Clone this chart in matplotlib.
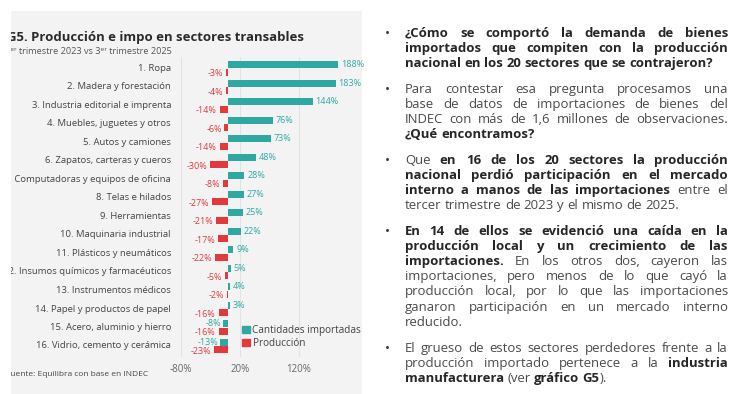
import numpy as np
import matplotlib
matplotlib.use('Agg')
import matplotlib.pyplot as plt
from matplotlib.patches import Patch
from matplotlib.transforms import blended_transform_factory

W, H = 748, 394
FONT = ['Open Sans', 'DejaVu Sans']
plt.rcParams['font.family'] = FONT

# data
sectores = ['1. Ropa', '2. Madera y forestación', '3. Industria editorial e imprenta',
            '4. Muebles, juguetes y otros', '5. Autos y camiones',
            '6. Zapatos, carteras y cueros', '7. Computadoras y equipos de oficina',
            '8. Telas e hilados', '9. Herramientas', '10. Maquinaria industrial',
            '11. Plásticos y neumáticos', '12. Insumos químicos y farmacéuticos',
            '13. Instrumentos médicos', '14. Papel y productos de papel',
            '15. Acero, aluminio y hierro', '16. Vidrio, cemento y cerámica']
importadas = [188, 183, 144, 76, 73, 48, 28, 27, 25, 22, 9, 5, 4, 3, -8, -13]
produccion = [-3, -4, -14, -6, -14, -30, -8, -27, -21, -17, -22, -5, -2, -16, -16, -23]
ticks = [-80, 20, 120]

titulo = 'G5. Producción e impo en sectores transables'
subtitulo = '3ᵉʳ trimestre 2023 vs 3ᵉʳ trimestre 2025'
fuente = 'Fuente: Equilibra con base en INDEC'

# right side text, ** marks bold runs
parrafos = [
    ['**¿Cómo se comportó la demanda de bienes**',
     '**importados que compiten con la producción**',
     '**nacional en los 20 sectores que se contrajeron?**'],
    ['Para contestar esa pregunta procesamos una',
     'base de datos de importaciones de bienes del',
     'INDEC con más de 1,6 millones de observaciones.',
     '**¿Qué encontramos?**'],
    ['Que **en 16 de los 20 sectores la producción**',
     '**nacional perdió participación en el mercado**',
     '**interno a manos de las importaciones** entre el',
     'tercer trimestre de 2023 y el mismo de 2025.'],
    ['**En 14 de ellos se evidenció una caída en la**',
     '**producción local y un crecimiento de las**',
     '**importaciones.** En los otros dos, cayeron las',
     'importaciones, pero menos de lo que cayó la',
     'producción local, por lo que las importaciones',
     'ganaron participación en un mercado interno',
     'reducido.'],
    ['El grueso de estos sectores perdedores frente a la',
     'producción importado pertenece a la **industria**',
     '**manufacturera** (ver **gráfico G5**).'],
]
inicio_parrafos = [33, 89, 160, 231, 348]

TEAL = '#2fa8a2'
RED = '#e23a3c'
GRAY_BG = '#f3f3f3'

fig = plt.figure(figsize=(W / 100, H / 100), dpi=100)
r = fig.canvas.get_renderer()


def fx(px):
    return px / W


def fy(py):
    return 1 - py / H


def width(t):
    return t.get_window_extent(r).width


def fit(t, target):
    t.set_fontsize(t.get_fontsize() * target / width(t))


# gray panel, data coords == image pixels
panel = fig.add_axes([fx(11), 0, fx(362) - fx(11), fy(11)])
panel.set_facecolor(GRAY_BG)
panel.set_xlim(11, 362)
panel.set_ylim(H, 11)
panel.set_xticks([])
panel.set_yticks([])
for s in panel.spines.values():
    s.set_visible(False)

t = panel.text(7, 38, titulo, fontsize=11, fontweight='bold', color='#2a2a2a',
               va='center', clip_on=True)
fit(t, 296)
t = panel.text(5, 51, subtitulo, fontsize=7, color='#555555', va='center', clip_on=True)
fit(t, 167)
t = panel.text(6, 375, fuente, fontsize=6, color='#444444', va='center', clip_on=True)
fit(t, 142)

# bar axes
ax = fig.add_axes([fx(181), fy(357.1), fx(362) - fx(181), fy(57.4) - fy(357.1)])
ax.set_facecolor('none')
ax.set_xlim(-80, 228)
ax.set_ylim(15.6, -0.6)
for s in ax.spines.values():
    s.set_visible(False)
ax.grid(axis='x', color='#e2e2e2', lw=0.8)
ax.set_axisbelow(True)
ax.set_yticks([])
ax.set_xticks(ticks)
ax.set_xticklabels([f'{v}%' for v in ticks])
ax.tick_params(axis='x', length=0, pad=5, labelsize=7, labelcolor='#666666')

y = np.arange(len(sectores))
ax.barh(y - 0.21, importadas, height=0.38, color=TEAL)
ax.barh(y + 0.21, produccion, height=0.38, color=RED)

for i, v in enumerate(importadas):
    if v >= 0:
        ax.annotate(f'{v}%', (v, i - 0.21), xytext=(2, 0), textcoords='offset points',
                    ha='left', va='center', fontsize=6.5, color=TEAL)
    else:
        ax.annotate(f'{v}%', (v, i - 0.21), xytext=(-1.5, 0), textcoords='offset points',
                    ha='right', va='center', fontsize=6.5, color=TEAL)
for i, v in enumerate(produccion):
    ax.annotate(f'{v}%', (v, i + 0.21), xytext=(-2, -1), textcoords='offset points',
                ha='right', va='center', fontsize=6.5, color=RED)

# category labels, clipped by the panel like in the cropped original
tr = blended_transform_factory(panel.transData, ax.transData)
labels = []
for i, s in enumerate(sectores):
    labels.append(panel.text(171, i, s, transform=tr, ha='right', va='center',
                             fontsize=7, color='#444444', clip_on=True))
probe = fig.text(0, 0, 'Computadoras y equipos de oficina', fontsize=7)
ref_fs = 7 * 158 / width(probe)
probe.remove()
for lb in labels:
    lb.set_fontsize(ref_fs)

handles = [Patch(color=TEAL, label='Cantidades importadas'), Patch(color=RED, label='Producción')]
fig.legend(handles=handles, loc='center left', bbox_to_anchor=(fx(242), fy(337)),
           frameon=False, fontsize=7.2, labelcolor='#444444', handlelength=0.75,
           handleheight=0.75, handletextpad=0.3, labelspacing=0.2, borderpad=0,
           borderaxespad=0)


# right column, justified text with mixed bold runs
def parse(line):
    words = [[]]
    for k, seg in enumerate(line.split('**')):
        bold = k % 2 == 1
        parts = seg.split(' ')
        for j, p in enumerate(parts):
            if j > 0:
                words.append([])
            if p:
                words[-1].append((p, bold))
    return [w for w in words if w]


X0, X1 = 405, 728
LS = 15.2
REG = '#4a4a4a'
BLD = '#262626'

probe = fig.text(0, 0, 'nacional en los 20 sectores que se contrajeron?', fontsize=10,
                 fontweight='bold')
FS = 10 * 308 / width(probe)
probe.remove()

sp1 = fig.text(0, 0, 'x x', fontsize=FS)
sp2 = fig.text(0, 0, 'xx', fontsize=FS)
SPACE = width(sp1) - width(sp2)
sp1.remove()
sp2.remove()

for p, lines in enumerate(parrafos):
    y0 = inicio_parrafos[p]
    fig.text(fx(385), fy(y0 + 3.6), '•', fontsize=FS, color='#333333', va='baseline')
    for n, line in enumerate(lines):
        yb = fy(y0 + n * LS + 3.6)
        words = parse(line)
        drawn = []
        for w in words:
            runs = []
            for txt, bold in w:
                tt = fig.text(0, yb, txt, fontsize=FS, va='baseline',
                              fontweight='bold' if bold else 'normal',
                              color=BLD if bold else REG)
                runs.append((tt, width(tt)))
            drawn.append(runs)
        wsum = sum(ww for runs in drawn for _, ww in runs)
        last = n == len(lines) - 1
        gap = SPACE if last or len(drawn) < 2 else (X1 - X0 - wsum) / (len(drawn) - 1)
        x = X0
        for runs in drawn:
            for tt, ww in runs:
                tt.set_x(fx(x))
                x += ww
            x += gap

fig.savefig('out.png', dpi=100)
